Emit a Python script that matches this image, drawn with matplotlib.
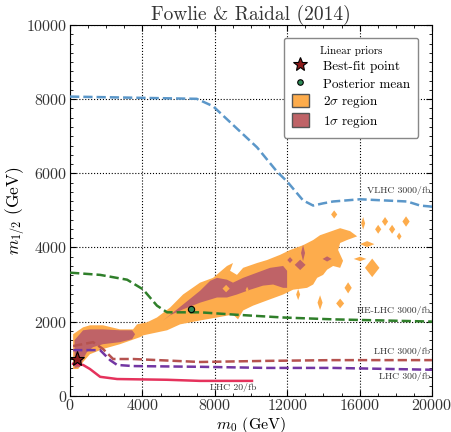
import matplotlib
matplotlib.use("Agg")
import matplotlib.pyplot as plt
from matplotlib.lines import Line2D
from matplotlib.patches import Patch, Polygon
from matplotlib.ticker import AutoMinorLocator

plt.rcParams["font.family"] = "serif"
plt.rcParams["font.serif"] = ["cmr10", "DejaVu Serif"]
plt.rcParams["mathtext.fontset"] = "cm"
plt.rcParams["axes.formatter.use_mathtext"] = True

# ---- data (GeV) ----
# 2 sigma region, main body (m0, m12)
orange_main = [
    (170, 720), (170, 1660), (720, 1845), (1100, 1900), (1820, 1900), (2760, 1790),
    (3480, 1790), (3700, 1925), (4250, 1980), (4800, 2110), (5530, 2380), (6240, 2730),
    (7180, 3050), (7900, 3180), (8670, 3500), (9000, 3580), (8840, 3370), (9220, 3260),
    (9560, 3450), (10330, 3580), (10880, 3660), (11600, 3800), (12150, 3930), (12870, 4060),
    (13430, 4200), (13810, 4330), (14920, 4520), (15470, 4440), (15860, 4300), (15300, 4200),
    (14920, 4120), (14810, 3930), (15080, 3640), (14920, 3450), (14530, 3500), (14200, 3400),
    (13980, 3260), (13650, 3180), (13430, 3000), (13090, 2910), (12320, 2860), (11770, 2730),
    (10880, 2570), (10110, 2430), (9560, 2300), (9280, 2060), (9000, 2190), (8120, 2110),
    (7180, 2030), (6080, 1925), (5360, 1765), (4050, 1630), (3870, 1580), (2760, 1390),
    (1820, 1260), (1100, 1120), (720, 910), (450, 720),
]
# 2 sigma islands: centre m0, centre m12, half width, half height
orange_isl_x = [14590, 16190, 17400, 18560, 17020, 17790, 18180, 16410, 16020, 16690,
                15360, 13810, 14920, 12600, 8620, 9780]
orange_isl_y = [4890, 4650, 4700, 4700, 4490, 4490, 4300, 4090, 3690, 3450,
                2910, 2510, 2490, 2730, 2890, 2860]
orange_isl_w = [170, 110, 170, 200, 170, 170, 130, 400, 350, 400,
                200, 140, 220, 110, 200, 80]
orange_isl_h = [110, 170, 120, 140, 120, 120, 100, 80, 60, 250,
                150, 200, 130, 150, 100, 80]

# 1 sigma regions
maroon_left = [
    (250, 750), (250, 1500), (720, 1765), (1100, 1790), (1820, 1790), (2760, 1765),
    (3430, 1765), (3590, 1660), (3430, 1525), (2760, 1445), (1820, 1390), (1270, 1310),
    (940, 1180), (720, 990), (550, 775),
]
maroon_main = [
    (5140, 2030), (6240, 2460), (7180, 2830), (7740, 3100), (8120, 3180), (8670, 3130),
    (9000, 3050), (9560, 3180), (10330, 3320), (11050, 3450), (11770, 3500), (11990, 3370),
    (11990, 2910), (11770, 2910), (11220, 3000), (10660, 2970), (9950, 2860), (9220, 2730),
    (8670, 2650), (8120, 2650), (7180, 2510), (6240, 2330), (5530, 2170),
]
maroon_isl_x = [12150, 12870, 12710, 14200]
maroon_isl_y = [3660, 3850, 3530, 3690]
maroon_isl_w = [150, 110, 300, 250]
maroon_isl_h = [80, 220, 140, 70]

best_fit = (390, 990)
post_mean = (6690, 2330)

# projected reaches
vlhc_x = [0, 7000, 7900, 10330, 11440, 11990, 12870, 13430, 13980, 14530, 16020, 17290, 18620, 19340, 20000]
vlhc_y = [8070, 8010, 7810, 6700, 6040, 5780, 5270, 5130, 5190, 5240, 5300, 5270, 5240, 5130, 5100]
helhc_x = [0, 1660, 3150, 4030, 4800, 5360, 7180, 9000, 11770, 14530, 17290, 20000]
helhc_y = [3320, 3260, 3130, 2870, 2430, 2250, 2250, 2190, 2110, 2060, 2030, 2000]
lhc3000_x = [170, 1270, 1820, 2380, 3480, 7180, 10880, 14530, 20000]
lhc3000_y = [1340, 1445, 1260, 990, 990, 910, 940, 960, 960]
lhc300_x = [170, 1660, 2210, 2600, 3480, 7180, 10880, 14530, 20000]
lhc300_y = [1230, 1230, 960, 830, 800, 780, 750, 750, 700]
lhc20_x = [170, 720, 1100, 1660, 2600, 5360, 7180, 10050]
lhc20_y = [860, 830, 720, 510, 450, 430, 400, 400]

c_orange = "#fdac4c"
c_maroon = "#bf6367"


def diamond(cx, cy, w, h):
  return [(cx - w, cy), (cx, cy + h), (cx + w, cy), (cx, cy - h)]


fig = plt.figure(figsize=(4.52, 4.32), dpi=100)
ax = fig.add_axes([0.155, 0.084, 0.801, 0.858])

# regions
ax.add_patch(Polygon(orange_main, closed=True, fc=c_orange, ec="none", zorder=1))
for cx, cy, w, h in zip(orange_isl_x, orange_isl_y, orange_isl_w, orange_isl_h):
  ax.add_patch(Polygon(diamond(cx, cy, w, h), closed=True, fc=c_orange, ec="none", zorder=1))
ax.add_patch(Polygon(maroon_left, closed=True, fc=c_maroon, ec="none", zorder=2))
ax.add_patch(Polygon(maroon_main, closed=True, fc=c_maroon, ec="none", zorder=2))
for cx, cy, w, h in zip(maroon_isl_x, maroon_isl_y, maroon_isl_w, maroon_isl_h):
  ax.add_patch(Polygon(diamond(cx, cy, w, h), closed=True, fc=c_maroon, ec="none", zorder=2))
# small 2 sigma holes inside the 1 sigma band
for cx, cy, w, h in zip(orange_isl_x[-2:], orange_isl_y[-2:], orange_isl_w[-2:], orange_isl_h[-2:]):
  ax.add_patch(Polygon(diamond(cx, cy, w, h), closed=True, fc=c_orange, ec="none", zorder=2.5))

# reach lines
ax.plot(vlhc_x, vlhc_y, ls="--", color="#5b97c9", lw=1.8, zorder=3)
ax.plot(helhc_x, helhc_y, ls="--", color="#2f7f2a", lw=1.8, zorder=3)
ax.plot(lhc3000_x, lhc3000_y, ls="--", color="#b5524f", lw=1.8, zorder=3)
ax.plot(lhc300_x, lhc300_y, ls="--", color="#7236a3", lw=1.8, zorder=3)
ax.plot(lhc20_x, lhc20_y, ls="-", color="#e5325c", lw=1.8, zorder=3)

ax.text(19900, 5530, "VLHC 3000/fb", fontsize=7, ha="right", va="center", color="#333333")
ax.text(19900, 2300, "HE-LHC 3000/fb", fontsize=7, ha="right", va="center", color="#333333", zorder=4)
ax.text(19900, 1200, "LHC 3000/fb", fontsize=7, ha="right", va="center", color="#333333")
ax.text(19900, 520, "LHC 300/fb", fontsize=7, ha="right", va="center", color="#333333")
ax.text(10300, 230, "LHC 20/fb", fontsize=7, ha="right", va="center", color="#333333")

# points
ax.plot(*best_fit, marker="*", ms=11, mfc="#8b1a1a", mec="black", mew=0.8, ls="none", zorder=5)
ax.plot(*post_mean, marker="o", ms=4.5, mfc="#2e8b57", mec="black", mew=0.8, ls="none", zorder=5)

ax.set_xlim(0, 20000)
ax.set_ylim(0, 10000)
ax.set_xticks([0, 4000, 8000, 12000, 16000, 20000])
ax.set_yticks([0, 2000, 4000, 6000, 8000, 10000])
ax.xaxis.set_minor_locator(AutoMinorLocator(4))
ax.yaxis.set_minor_locator(AutoMinorLocator(8))
ax.tick_params(which="both", top=True, right=True, direction="in", labelsize=11.5,
               labelcolor="#333333", pad=2)
ax.tick_params(which="major", length=4)
ax.tick_params(which="minor", length=2)
ax.grid(True, which="major", ls=":", color="black", lw=0.8)
ax.set_axisbelow(True)

ax.set_xlabel(r"$m_0$ (GeV)", fontsize=11.5)
ax.set_ylabel(r"$m_{1/2}$ (GeV)", fontsize=12.5)
ax.xaxis.set_label_coords(0.5, -0.052)
ax.yaxis.set_label_coords(-0.118, 0.5)
ax.set_title("Fowlie & Raidal (2014)", fontsize=14, pad=3, color="#333333")

handles = [
    Line2D([], [], marker="*", ms=10, mfc="#8b1a1a", mec="black", mew=0.8, ls="none"),
    Line2D([], [], marker="o", ms=4, mfc="#2e8b57", mec="black", mew=0.8, ls="none"),
    Patch(fc=c_orange, ec="#555555"),
    Patch(fc=c_maroon, ec="#555555"),
]
labels = ["Best-fit point", "Posterior mean", r"2$\sigma$ region", r"1$\sigma$ region"]
leg = ax.legend(handles, labels, loc="upper right", bbox_to_anchor=(0.962, 0.966),
                borderaxespad=0, title="Linear priors", fontsize=9.5, title_fontsize=8,
                handlelength=1.3, handleheight=1.2, borderpad=0.6, labelspacing=0.25,
                handletextpad=1.1, framealpha=1, edgecolor="#888888", fancybox=True)
leg.set_zorder(10)

fig.savefig("out.png", dpi=100)
